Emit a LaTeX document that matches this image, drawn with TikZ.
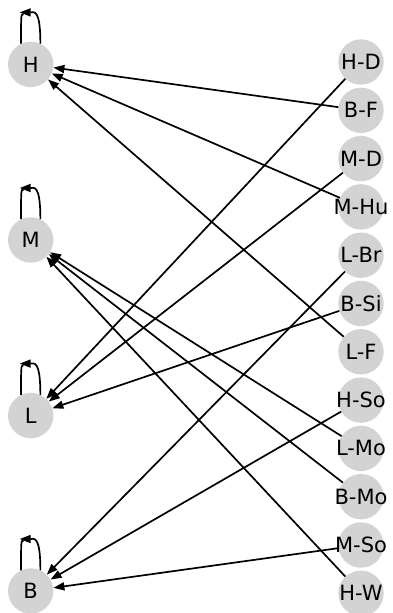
\documentclass[tikz,border=0pt]{standalone}
\usepackage{fontspec}
\setmainfont{DejaVu Sans}
\usetikzlibrary{arrows.meta}

\definecolor{vtxgray}{RGB}{211,211,211}
\newcommand{\vname}[1]{\makebox[0pt]{#1}}

\begin{document}
\begin{tikzpicture}[x=1pt, y=-1pt,
	vtx/.style={circle, fill=vtxgray, minimum size=45.4pt, inner sep=0pt, font=\fontsize{21}{25}\selectfont},
	link/.style={-{Triangle[length=11pt, width=8pt]}, line width=1.7pt},
	leg/.style={line width=1.7pt}]
				\useasboundingbox (0,0) rectangle (393,613);
				\node[vtx] (H) at (30.7, 64.4) {\vname{H}};
				\node[vtx] (M) at (30.7, 240) {\vname{M}};
				\node[vtx] (L) at (30.7, 415.6) {\vname{L}};
				\node[vtx] (B) at (30.7, 591) {\vname{B}};
				\node[vtx] (HD) at (361, 62) {\vname{H-D}};
				\node[vtx] (BF) at (361, 110.3) {\vname{B-F}};
				\node[vtx] (MD) at (361, 158.6) {\vname{M-D}};
				\node[vtx] (MHu) at (361, 206.9) {\vname{M-Hu}};
				\node[vtx] (LBr) at (361, 255.2) {\vname{L-Br}};
				\node[vtx] (BSi) at (361, 303.5) {\vname{B-Si}};
				\node[vtx] (LF) at (361, 351.8) {\vname{L-F}};
				\node[vtx] (HSo) at (361, 400.1) {\vname{H-So}};
				\node[vtx] (LMo) at (361, 448.4) {\vname{L-Mo}};
				\node[vtx] (BMo) at (361, 496.7) {\vname{B-Mo}};
				\node[vtx] (MSo) at (361, 545) {\vname{M-So}};
				\node[vtx] (HW) at (361, 593.3) {\vname{H-W}};
				\draw[link] (BF) -- (H);
				\draw[link] (MHu) -- (H);
				\draw[link] (LF) -- (H);
				\draw[link] (HD) -- (L);
				\draw[link] (MD) -- (L);
				\draw[link] (BSi) -- (L);
				\draw[link] (LBr) -- (B);
				\draw[link] (HSo) -- (B);
				\draw[link] (MSo) -- (B);
				\draw[link] (LMo) -- (M);
				\draw[link] (BMo) -- (M);
				\draw[link] (HW) -- (M);
				\draw[link] (H.65) .. controls +(0,-36) and +(14,0) .. ([shift={(-11,-52)}]H.center);
				\draw[leg] (H.115) .. controls +(0,-30) .. ([shift={(-7,-50)}]H.center);
				\draw[link] (M.65) .. controls +(0,-36) and +(14,0) .. ([shift={(-11,-52)}]M.center);
				\draw[leg] (M.115) .. controls +(0,-30) .. ([shift={(-7,-50)}]M.center);
				\draw[link] (L.65) .. controls +(0,-36) and +(14,0) .. ([shift={(-11,-52)}]L.center);
				\draw[leg] (L.115) .. controls +(0,-30) .. ([shift={(-7,-50)}]L.center);
				\draw[link] (B.65) .. controls +(0,-36) and +(14,0) .. ([shift={(-11,-52)}]B.center);
				\draw[leg] (B.115) .. controls +(0,-30) .. ([shift={(-7,-50)}]B.center);
			\end{tikzpicture}
\end{document}
